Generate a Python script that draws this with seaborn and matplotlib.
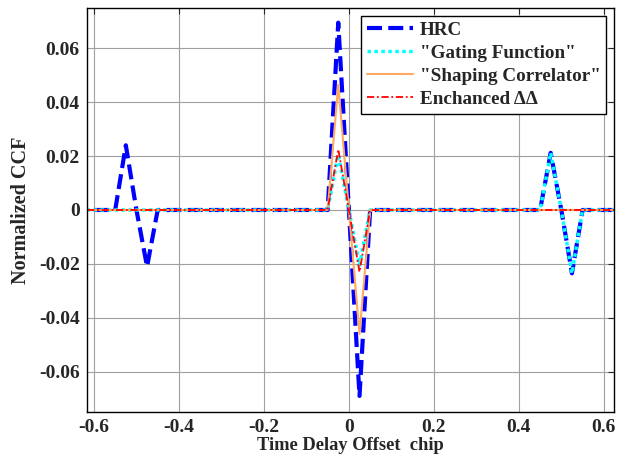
import numpy as np
import pandas as pd
import matplotlib
matplotlib.use("Agg")
import matplotlib.pyplot as plt
import seaborn as sns

# ---- data ----
x = [-0.65, -0.55, -0.525, -0.5, -0.475, -0.45, -0.05, -0.025, 0.0, 0.025, 0.05,
     0.45, 0.475, 0.5, 0.525, 0.55, 0.65]
hrc = [0, 0, 0.024, 0, -0.021, 0, 0, 0.0695, 0, -0.069, 0,
       0, 0.0212, 0, -0.0235, 0, 0]
gating = [0, 0, 0, 0, 0, 0, 0, 0.0205, 0, -0.0205, 0,
          0, 0.0212, 0, -0.0235, 0, 0]
shaping = [0, 0, 0, 0, 0, 0, 0, 0.0465, 0, -0.046, 0,
           0, 0, 0, 0, 0, 0]
enhanced = [0, 0, 0, 0, 0, 0, 0, 0.0225, 0, -0.023, 0,
            0, 0, 0, 0, 0, 0]
series_names = ['HRC', '"Gating Function"', '"Shaping Correlator"', 'Enchanced ΔΔ']
xticks = [-0.6, -0.4, -0.2, 0, 0.2, 0.4, 0.6]
xticklabels = ['-0.6', '-0.4', '-0.2', '0', '0.2', '0.4', '0.6']
yticks = [-0.06, -0.04, -0.02, 0, 0.02, 0.04, 0.06]
yticklabels = ['-0.06', '-0.04', '-0.02', '0', '0.02', '0.04', '0.06']

sns.set_style("white")
plt.rcParams['font.family'] = ['Liberation Serif', 'DejaVu Serif']
plt.rcParams['font.weight'] = 'bold'
plt.rcParams['axes.unicode_minus'] = False

fig = plt.figure(figsize=(6.24, 4.61), dpi=100)
ax = fig.add_axes([0.139, 0.106, 0.845, 0.877])

styles = [
    dict(color='#0000FF', lw=3.0, dashes=(3.6, 1.5)),
    dict(color='#00FFFF', lw=2.5, dashes=(1.0, 1.0)),
    dict(color='#FFA860', lw=1.5, dashes=()),
    dict(color='#FF0000', lw=1.3, dashes=(4, 1.5, 1, 1.5)),
]
values = [hrc, gating, shaping, enhanced]
for name, vals, st in zip(series_names, values, styles):
    df = pd.DataFrame({'x': x, 'y': vals})
    sns.lineplot(data=df, x='x', y='y', ax=ax, sort=False, color=st['color'],
                 linewidth=st['lw'], label=name)
    line = ax.lines[-1]
    if st['dashes']:
        line.set_dashes(st['dashes'])
    line.set_dash_capstyle('butt')

ax.set_xlim(-0.617, 0.624)
ax.set_ylim(-0.075, 0.075)
ax.set_xticks(xticks)
ax.set_xticklabels(xticklabels, fontsize=14, fontweight='bold')
ax.set_yticks(yticks)
ax.set_yticklabels(yticklabels, fontsize=14, fontweight='bold')
ax.grid(True, color='#a0a0a0', linestyle='-', linewidth=0.8)
ax.tick_params(direction='in', top=True, right=True, length=4, width=0.8, pad=5)
for sp in ax.spines.values():
    sp.set_color('black')
    sp.set_linewidth(1.0)
ax.set_xlabel('Time Delay Offset  chip', fontsize=13.3, fontweight='bold', labelpad=1)
ax.set_ylabel('Normalized CCF', fontsize=14.5, fontweight='bold', labelpad=6)

leg = ax.legend(loc='upper right', frameon=True, fancybox=False,
                edgecolor='black', framealpha=1, borderpad=0.3, labelspacing=0.3,
                handlelength=2.4, handletextpad=0.35, borderaxespad=0.4,
                prop={'weight': 'bold', 'size': 13.8})
leg.get_frame().set_linewidth(1.0)

fig.savefig('out.png', dpi=100)
